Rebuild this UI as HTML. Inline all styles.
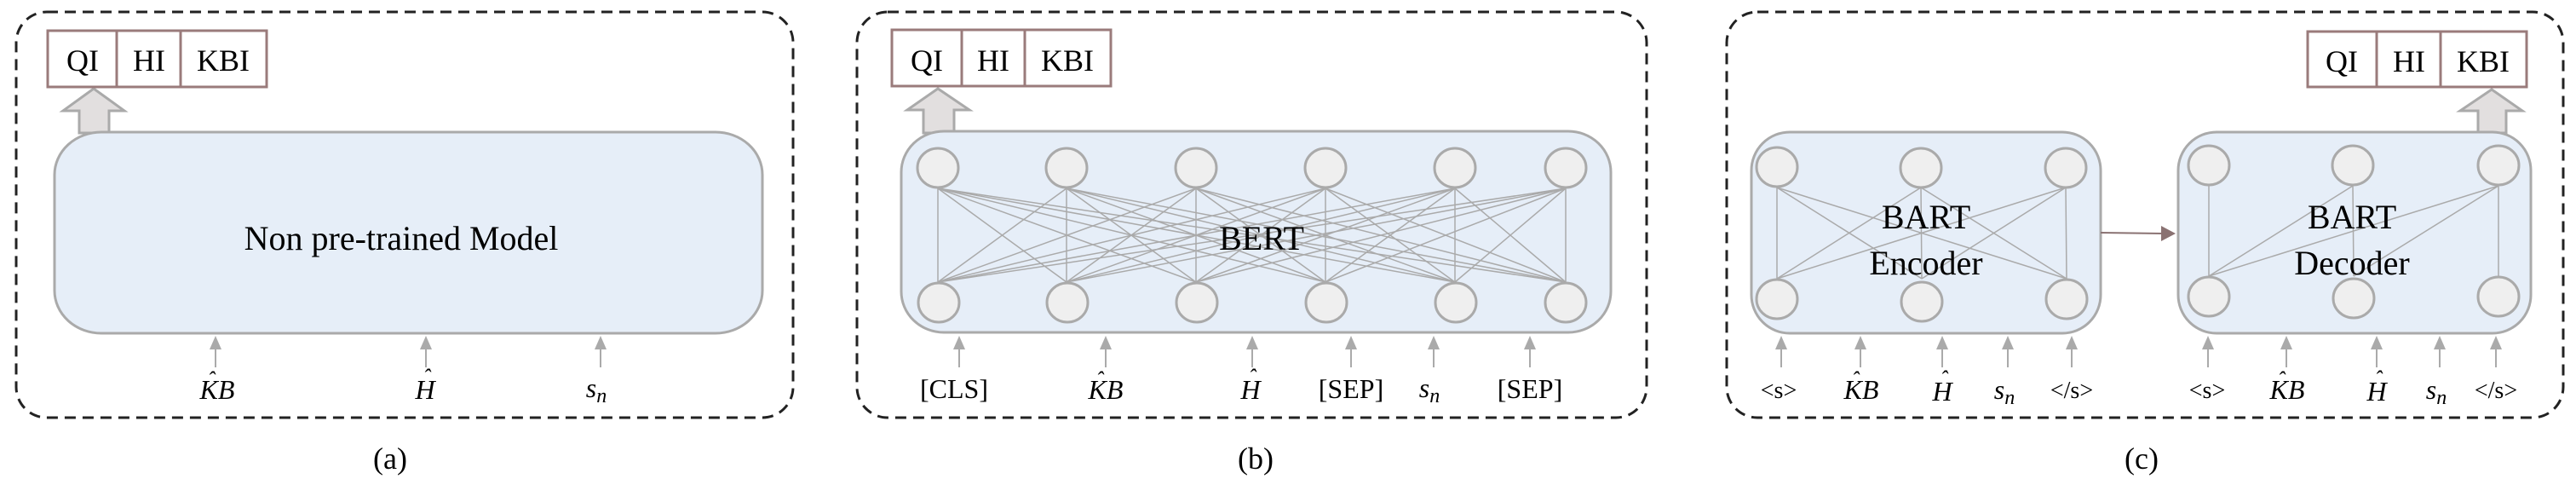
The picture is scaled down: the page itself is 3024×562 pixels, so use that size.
<!DOCTYPE html>
<html><head><meta charset="utf-8"><style>
html,body{margin:0;padding:0;background:#fff;}
svg{display:block;}
text{font-family:"Liberation Serif",serif;fill:#000;}
.t{font-size:36px;text-anchor:middle;}
.m{font-size:32px;font-style:italic;text-anchor:middle;}
.big{font-size:40px;text-anchor:middle;}
.dash{fill:none;stroke:#222;stroke-width:3;stroke-dasharray:13,8;}
.box{fill:#e6eef8;stroke:#aaa;stroke-width:3;}
.ob{fill:#fff;stroke:#9a7b7b;stroke-width:3;}
.n{fill:#efefef;stroke:#aaa;stroke-width:3;}
.l{stroke:#aaa;stroke-width:1.5;}
.ia{stroke:#aaa;stroke-width:2;}
.ah{fill:#aaa;}
.big-arrow{fill:#e2dfdf;stroke:#aaa;stroke-width:3;}
</style></head><body>
<svg width="3024" height="562" viewBox="0 0 3024 562" xmlns="http://www.w3.org/2000/svg">
<defs>
<g id="inarrow"><line class="ia" x1="0" y1="410" x2="0" y2="431"/><polygon class="ah" points="0,394 -7,410 7,410"/></g>
</defs>

<!-- Panel a -->
<rect class="dash" x="19" y="14" width="912" height="476" rx="36" ry="36"/>
<polygon class="big-arrow" points="110,104 74,130 93,130 93,156 128,156 128,130 146,130"/>
<rect class="box" x="64" y="155" width="831" height="236" rx="55" ry="50"/>
<rect class="ob" x="56" y="36" width="257" height="66"/>
<line x1="137" y1="36" x2="137" y2="102" stroke="#9a7b7b" stroke-width="3"/>
<line x1="212" y1="36" x2="212" y2="102" stroke="#9a7b7b" stroke-width="3"/>
<text class="t" x="97" y="83">QI</text><text class="t" x="175" y="83">HI</text><text class="t" x="262" y="83">KBI</text>
<text class="big" x="471" y="293">Non pre-trained Model</text>
<use href="#inarrow" x="253"/><use href="#inarrow" x="500"/><use href="#inarrow" x="705"/>
<text class="m" x="255" y="468">KB</text><text class="m" x="248" y="454" style="font-size:26px">ˆ</text>
<text class="m" x="499" y="468">H</text><text class="m" x="501" y="451" style="font-size:26px">ˆ</text>
<text class="m" x="700" y="466">s<tspan font-size="24" dy="6">n</tspan></text>
<text class="t" x="458" y="550">(a)</text>

<!-- Panel b -->
<rect class="dash" x="1006" y="14" width="927" height="476" rx="36" ry="36"/>
<polygon class="big-arrow" points="1101,104 1065,129 1084,129 1084,156 1120,156 1120,129 1138,129"/>
<rect class="box" x="1058" y="154" width="833" height="236" rx="50" ry="48"/>
<rect class="ob" x="1047" y="35" width="257" height="66"/>
<line x1="1129" y1="35" x2="1129" y2="101" stroke="#9a7b7b" stroke-width="3"/>
<line x1="1203" y1="35" x2="1203" y2="101" stroke="#9a7b7b" stroke-width="3"/>
<text class="t" x="1088" y="83">QI</text><text class="t" x="1166" y="83">HI</text><text class="t" x="1253" y="83">KBI</text>
<g>
<line class="l" x1="1101" y1="221" x2="1101" y2="331"/><line class="l" x1="1101" y1="221" x2="1252" y2="331"/><line class="l" x1="1101" y1="221" x2="1404" y2="331"/><line class="l" x1="1101" y1="221" x2="1556" y2="331"/><line class="l" x1="1101" y1="221" x2="1708" y2="331"/><line class="l" x1="1101" y1="221" x2="1838" y2="331"/>
<line class="l" x1="1252" y1="221" x2="1101" y2="331"/><line class="l" x1="1252" y1="221" x2="1252" y2="331"/><line class="l" x1="1252" y1="221" x2="1404" y2="331"/><line class="l" x1="1252" y1="221" x2="1556" y2="331"/><line class="l" x1="1252" y1="221" x2="1708" y2="331"/><line class="l" x1="1252" y1="221" x2="1838" y2="331"/>
<line class="l" x1="1404" y1="221" x2="1101" y2="331"/><line class="l" x1="1404" y1="221" x2="1252" y2="331"/><line class="l" x1="1404" y1="221" x2="1404" y2="331"/><line class="l" x1="1404" y1="221" x2="1556" y2="331"/><line class="l" x1="1404" y1="221" x2="1708" y2="331"/><line class="l" x1="1404" y1="221" x2="1838" y2="331"/>
<line class="l" x1="1556" y1="221" x2="1101" y2="331"/><line class="l" x1="1556" y1="221" x2="1252" y2="331"/><line class="l" x1="1556" y1="221" x2="1404" y2="331"/><line class="l" x1="1556" y1="221" x2="1556" y2="331"/><line class="l" x1="1556" y1="221" x2="1708" y2="331"/><line class="l" x1="1556" y1="221" x2="1838" y2="331"/>
<line class="l" x1="1708" y1="221" x2="1101" y2="331"/><line class="l" x1="1708" y1="221" x2="1252" y2="331"/><line class="l" x1="1708" y1="221" x2="1404" y2="331"/><line class="l" x1="1708" y1="221" x2="1556" y2="331"/><line class="l" x1="1708" y1="221" x2="1708" y2="331"/><line class="l" x1="1708" y1="221" x2="1838" y2="331"/>
<line class="l" x1="1838" y1="221" x2="1101" y2="331"/><line class="l" x1="1838" y1="221" x2="1252" y2="331"/><line class="l" x1="1838" y1="221" x2="1404" y2="331"/><line class="l" x1="1838" y1="221" x2="1556" y2="331"/><line class="l" x1="1838" y1="221" x2="1708" y2="331"/><line class="l" x1="1838" y1="221" x2="1838" y2="331"/>
</g>
<g>
<ellipse class="n" cx="1101" cy="197" rx="24" ry="23"/><ellipse class="n" cx="1252" cy="197" rx="24" ry="23"/><ellipse class="n" cx="1404" cy="197" rx="24" ry="23"/><ellipse class="n" cx="1556" cy="197" rx="24" ry="23"/><ellipse class="n" cx="1708" cy="197" rx="24" ry="23"/><ellipse class="n" cx="1838" cy="197" rx="24" ry="23"/>
<ellipse class="n" cx="1102" cy="355" rx="24" ry="23"/><ellipse class="n" cx="1253" cy="355" rx="24" ry="23"/><ellipse class="n" cx="1405" cy="355" rx="24" ry="23"/><ellipse class="n" cx="1557" cy="355" rx="24" ry="23"/><ellipse class="n" cx="1709" cy="355" rx="24" ry="23"/><ellipse class="n" cx="1838" cy="355" rx="24" ry="23"/>
</g>
<text class="big" x="1481" y="293">BERT</text>
<use href="#inarrow" x="1126"/><use href="#inarrow" x="1298"/><use href="#inarrow" x="1470"/><use href="#inarrow" x="1586"/><use href="#inarrow" x="1683"/><use href="#inarrow" x="1796"/>
<text class="t" x="1120" y="467" style="font-size:32px">[CLS]</text>
<text class="m" x="1298" y="468">KB</text><text class="m" x="1291" y="454" style="font-size:26px">ˆ</text>
<text class="m" x="1468" y="468">H</text><text class="m" x="1470" y="451" style="font-size:26px">ˆ</text>
<text class="t" x="1586" y="467" style="font-size:32px">[SEP]</text>
<text class="m" x="1678" y="466">s<tspan font-size="24" dy="6">n</tspan></text>
<text class="t" x="1796" y="467" style="font-size:32px">[SEP]</text>
<text class="t" x="1474" y="550">(b)</text>

<!-- Panel c -->
<rect class="dash" x="2027" y="14" width="982" height="476" rx="36" ry="36"/>
<polygon class="big-arrow" points="2925,105 2888,130 2909,130 2909,156 2942,156 2942,130 2961,130"/>
<rect class="ob" x="2709" y="37" width="257" height="65"/>
<line x1="2790" y1="37" x2="2790" y2="102" stroke="#9a7b7b" stroke-width="3"/>
<line x1="2865" y1="37" x2="2865" y2="102" stroke="#9a7b7b" stroke-width="3"/>
<text class="t" x="2749" y="84">QI</text><text class="t" x="2828" y="84">HI</text><text class="t" x="2915" y="84">KBI</text>
<rect class="box" x="2056" y="155" width="410" height="236" rx="45" ry="45"/>
<rect class="box" x="2557" y="155" width="414" height="236" rx="45" ry="45"/>
<line x1="2466" y1="273" x2="2540" y2="274" stroke="#8a7272" stroke-width="2"/>
<polygon points="2554,274 2537,265 2537,283" fill="#8a7272"/>
<g>
<line class="l" x1="2086" y1="220" x2="2086" y2="327"/><line class="l" x1="2086" y1="220" x2="2256" y2="327"/><line class="l" x1="2086" y1="220" x2="2426" y2="327"/>
<line class="l" x1="2255" y1="220" x2="2086" y2="327"/><line class="l" x1="2255" y1="220" x2="2256" y2="327"/><line class="l" x1="2255" y1="220" x2="2426" y2="327"/>
<line class="l" x1="2425" y1="220" x2="2086" y2="327"/><line class="l" x1="2425" y1="220" x2="2256" y2="327"/><line class="l" x1="2425" y1="220" x2="2426" y2="327"/>
<line class="l" x1="2593" y1="218" x2="2593" y2="324"/><line class="l" x1="2762" y1="218" x2="2763" y2="324"/><line class="l" x1="2933" y1="218" x2="2933" y2="324"/>
<line class="l" x1="2593" y1="324" x2="2762" y2="218"/><line class="l" x1="2593" y1="324" x2="2933" y2="218"/><line class="l" x1="2763" y1="324" x2="2933" y2="218"/>
</g>
<g>
<ellipse class="n" cx="2086" cy="196" rx="24" ry="23"/><ellipse class="n" cx="2255" cy="197" rx="24" ry="23"/><ellipse class="n" cx="2425" cy="197" rx="24" ry="23"/>
<ellipse class="n" cx="2086" cy="351" rx="24" ry="23"/><ellipse class="n" cx="2256" cy="354" rx="24" ry="23"/><ellipse class="n" cx="2426" cy="351" rx="24" ry="23"/>
<ellipse class="n" cx="2593" cy="194" rx="24" ry="23"/><ellipse class="n" cx="2762" cy="194" rx="24" ry="23"/><ellipse class="n" cx="2933" cy="194" rx="24" ry="23"/>
<ellipse class="n" cx="2593" cy="348" rx="24" ry="23"/><ellipse class="n" cx="2763" cy="350" rx="24" ry="23"/><ellipse class="n" cx="2933" cy="348" rx="24" ry="23"/>
</g>
<text class="big" x="2261" y="268">BART</text><text class="big" x="2261" y="322">Encoder</text>
<text class="big" x="2761" y="268">BART</text><text class="big" x="2761" y="322">Decoder</text>
<use href="#inarrow" x="2091"/><use href="#inarrow" x="2184"/><use href="#inarrow" x="2280"/><use href="#inarrow" x="2357"/><use href="#inarrow" x="2432"/>
<use href="#inarrow" x="2592"/><use href="#inarrow" x="2684"/><use href="#inarrow" x="2790"/><use href="#inarrow" x="2864"/><use href="#inarrow" x="2930"/>
<text class="t" x="2088" y="467" style="font-size:28px">&lt;s&gt;</text>
<text class="m" x="2185" y="468">KB</text><text class="m" x="2178" y="454" style="font-size:26px">ˆ</text>
<text class="m" x="2280" y="470">H</text><text class="m" x="2282" y="453" style="font-size:26px">ˆ</text>
<text class="m" x="2353" y="468">s<tspan font-size="24" dy="6">n</tspan></text>
<text class="t" x="2432" y="467" style="font-size:28px">&lt;/s&gt;</text>
<text class="t" x="2591" y="467" style="font-size:28px">&lt;s&gt;</text>
<text class="m" x="2685" y="468">KB</text><text class="m" x="2678" y="454" style="font-size:26px">ˆ</text>
<text class="m" x="2790" y="470">H</text><text class="m" x="2792" y="453" style="font-size:26px">ˆ</text>
<text class="m" x="2860" y="468">s<tspan font-size="24" dy="6">n</tspan></text>
<text class="t" x="2930" y="467" style="font-size:28px">&lt;/s&gt;</text>
<text class="t" x="2514" y="550">(c)</text>
</svg>
</body></html>
